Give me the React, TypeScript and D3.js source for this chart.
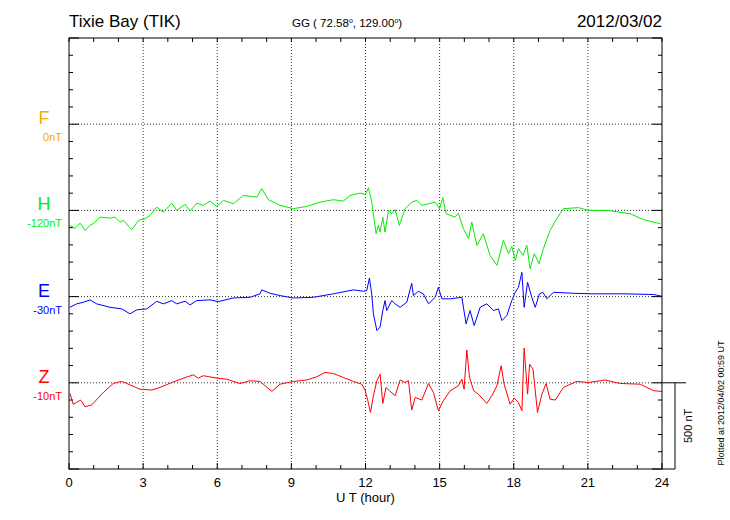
import * as d3 from 'd3'

// readings: [UT hour, offset from baseline in nT]
const hData: [number, number][] = [
  [0.04, -87], [0.24, -104], [0.45, -74], [0.65, -116], [0.85, -87], [0.98, -77], [1.26, -39], [1.66, -45],
  [1.86, -39], [2.06, -68], [2.2, -58], [2.54, -112], [2.81, -58], [3.08, -48], [3.28, -29], [3.55, 19],
  [3.82, -10], [4.16, 42], [4.36, 0], [4.7, 35], [4.9, -4], [5.17, 42], [5.44, 29], [5.71, 54], [5.98, 23],
  [6.25, 58], [6.65, 39], [7.06, 87], [7.6, 77], [7.8, 126], [8.07, 62], [8.54, 29], [9.08, 10], [9.62, 23],
  [10.16, 48], [10.7, 62], [11.1, 54], [11.38, 87], [11.78, 100], [12.0, 93], [12.12, 132], [12.25, 48],
  [12.43, -135], [12.52, -87], [12.59, -126], [12.7, -39], [12.79, -126], [12.93, 0], [13.06, -19], [13.2, 4],
  [13.37, -87], [13.6, 10], [13.87, 48], [14.08, 58], [14.28, 29], [14.55, 39], [14.82, 48], [15.0, 10],
  [15.13, 74], [15.26, -19], [15.63, -39], [15.76, -16], [15.96, -106], [16.17, -164], [16.3, -68],
  [16.51, -203], [16.77, -135], [17.04, -261], [17.32, -319], [17.58, -174], [17.79, -251], [17.92, -209],
  [18.06, -290], [18.19, -222], [18.37, -261], [18.53, -203], [18.66, -338], [18.83, -251], [19.03, -309],
  [19.2, -222], [19.47, -116], [19.74, -48], [20.01, 10], [20.62, 16], [21.02, 0], [21.77, 0], [22.71, -19],
  [23.25, -54], [23.93, -77],
]

const eData: [number, number][] = [
  [0.04, -62], [0.31, -42], [0.58, -33], [0.85, -19], [1.12, -42], [1.66, -62], [2.13, -71], [2.47, -100],
  [2.74, -77], [3.15, -71], [3.55, -27], [3.82, -42], [4.16, -23], [4.36, -42], [4.7, -27], [4.9, -48],
  [5.17, -23], [5.71, -19], [6.04, -29], [6.65, -8], [7.33, -4], [7.73, 16], [7.8, 39], [8.14, 19], [8.54, 6],
  [9.08, -8], [9.89, -4], [10.7, 16], [11.51, 39], [11.91, 31], [12.05, 35], [12.16, 108], [12.25, 16],
  [12.32, -100], [12.46, -197], [12.59, -177], [12.7, -81], [12.79, -23], [12.86, -81], [13.06, -23],
  [13.2, -42], [13.4, -62], [13.67, -33], [13.87, 77], [13.94, 6], [14.14, 31], [14.34, 16], [14.55, -42],
  [14.82, -4], [14.95, 54], [15.09, -13], [15.43, -13], [15.9, -4], [16.07, -158], [16.23, -81], [16.4, -168],
  [16.64, -62], [16.91, -42], [17.18, -81], [17.38, -71], [17.52, -139], [17.72, -110], [17.92, -23],
  [18.06, 25], [18.19, 54], [18.33, 141], [18.42, -62], [18.56, 83], [18.73, -4], [18.87, -62], [19.04, 16],
  [19.18, 25], [19.34, -13], [19.61, 25], [20.42, 19], [21.23, 16], [22.44, 16], [23.66, 12], [24.0, 2],
]

const zData: [number, number][] = [
  [0.04, -62], [0.17, -124], [0.31, -114], [0.47, -100], [0.65, -139], [0.92, -128], [1.39, -56], [1.79, -4],
  [2.13, 8], [2.34, -4], [2.87, -37], [3.35, -42], [3.68, -27], [4.16, 2], [4.63, 27], [5.03, 46], [5.23, 27],
  [5.44, 41], [5.98, 27], [6.38, 21], [6.92, -4], [7.33, 12], [7.73, 8], [8.21, -50], [8.54, -8], [9.08, 8],
  [9.62, 16], [10.03, 35], [10.36, 60], [10.7, 54], [11.1, 31], [11.51, 8], [11.85, -8], [11.98, -42],
  [12.08, -95], [12.2, -172], [12.32, -75], [12.46, 12], [12.59, 50], [12.7, -120], [12.83, -27],
  [12.97, -46], [13.2, -75], [13.4, 16], [13.6, 2], [13.74, 12], [13.87, -158], [14.01, -85], [14.28, -100],
  [14.55, -4], [14.75, -56], [14.95, -162], [15.15, -104], [15.43, -46], [15.76, -17], [15.9, 21],
  [15.99, -37], [16.1, 190], [16.21, 31], [16.38, -46], [16.57, -66], [16.91, -120], [17.11, -75],
  [17.32, -17], [17.49, 99], [17.61, -8], [17.85, -124], [18.02, -89], [18.19, -114], [18.33, -162],
  [18.42, 201], [18.56, -66], [18.64, 108], [18.78, 79], [18.96, -172], [19.14, -66], [19.31, -4],
  [19.47, -95], [19.68, -100], [20.01, -27], [20.55, 8], [21.02, 2], [21.7, 16], [22.31, -4], [23.12, -8],
  [23.66, -46], [24.0, -50],
]

const components = ['F', 'H', 'E', 'Z']
const baseLabels = ['0nT', '-120nT', '-30nT', '-10nT']
const colors = ['#f5a800', '#00ee00', '#0000ff', '#ff0000']
const baselines = [2000, 1500, 1000, 500]
const series: ([number, number][] | null)[] = [null, hData, eData, zData]
const xTickLabels = [0, 3, 6, 9, 12, 15, 18, 21, 24]

const font = '"Liberation Sans", Arial, Helvetica, sans-serif'

export default function App() {
  const left = 69, right = 662, top = 38, bottom = 469
  const x = d3.scaleLinear().domain([0, 24]).range([left, right])
  const y = d3.scaleLinear().domain([0, 2500]).range([bottom, top])

  const hourTicks = d3.range(0, 25)
  const nTTicks = d3.range(0, 2501, 100)

  return (
    <div style={{ position: 'absolute', left: 0, top: 0 }}>
      <svg width={730} height={520} style={{ display: 'block', background: '#fff' }} fontFamily={font}>
        <text x={left} y={27} fontSize={17}>Tixie Bay (TIK)</text>
        <text x={292} y={27} fontSize={11.5}>
          GG ( 72.58<tspan dy={-4} fontSize={7}>o</tspan><tspan dy={4}>, 129.00</tspan><tspan dy={-4} fontSize={7}>o</tspan><tspan dy={4}>)</tspan>
        </text>
        <text x={right} y={27} fontSize={17} textAnchor="end">2012/03/02</text>

        {/* grid */}
        {xTickLabels.slice(1, -1).map(h => (
          <line key={'vg' + h} x1={x(h)} x2={x(h)} y1={top} y2={bottom}
            stroke="#333" strokeWidth={1} strokeDasharray="1,2" />
        ))}
        {baselines.map(b => (
          <line key={'hg' + b} x1={left} x2={right} y1={y(b)} y2={y(b)}
            stroke="#333" strokeWidth={1} strokeDasharray="1,2" />
        ))}

        {/* ticks */}
        {hourTicks.map(h => {
          const major = h % 3 === 0
          return (
            <g key={'ht' + h} stroke="#000">
              <line x1={x(h)} x2={x(h)} y1={top} y2={top + 4} />
              <line x1={x(h)} x2={x(h)} y1={bottom} y2={bottom - (major ? 6 : 4)} />
            </g>
          )
        })}
        {nTTicks.map(v => {
          const major = v % 500 === 0
          return (
            <g key={'vt' + v} stroke="#000">
              <line x1={left} x2={left + (major ? 10 : 4)} y1={y(v)} y2={y(v)} />
              <line x1={right} x2={right - (major ? 10 : 4)} y1={y(v)} y2={y(v)} />
            </g>
          )
        })}

        {/* traces */}
        {series.map((s, i) => s && (
          <path key={'s' + i}
            d={d3.line<[number, number]>().x(d => x(d[0])).y(d => y(baselines[i] + d[1]))(s) || ''}
            fill="none" stroke={colors[i]} strokeWidth={1} />
        ))}

        <rect x={left} y={top} width={right - left} height={bottom - top} fill="none" stroke="#000" strokeWidth={1} />

        {/* component labels */}
        {components.map((c, i) => (
          <g key={c} fill={colors[i]}>
            <text x={44} y={y(baselines[i])} fontSize={18} textAnchor="middle">{c}</text>
            <text x={62} y={y(baselines[i]) + 17} fontSize={11} textAnchor="end">{baseLabels[i]}</text>
          </g>
        ))}

        {/* x axis labels */}
        {xTickLabels.map(h => (
          <text key={'xl' + h} x={x(h)} y={487} fontSize={13} textAnchor="middle">{h}</text>
        ))}
        <text x={(left + right) / 2} y={502} fontSize={13} textAnchor="middle">U T (hour)</text>

        {/* scale bar */}
        <g stroke="#000">
          <line x1={right} x2={686} y1={y(500)} y2={y(500)} />
          <line x1={675} x2={675} y1={y(500)} y2={y(0)} />
          <line x1={right} x2={675} y1={y(0)} y2={y(0)} />
        </g>
        <text transform={`translate(${692},${(y(500) + y(0)) / 2}) rotate(-90)`} fontSize={11} textAnchor="middle">500 nT</text>
        <text transform={`translate(${724},${403}) rotate(-90)`} fontSize={9} textAnchor="middle">Plotted at 2012/04/02 00:59 UT</text>
      </svg>
    </div>
  )
}
